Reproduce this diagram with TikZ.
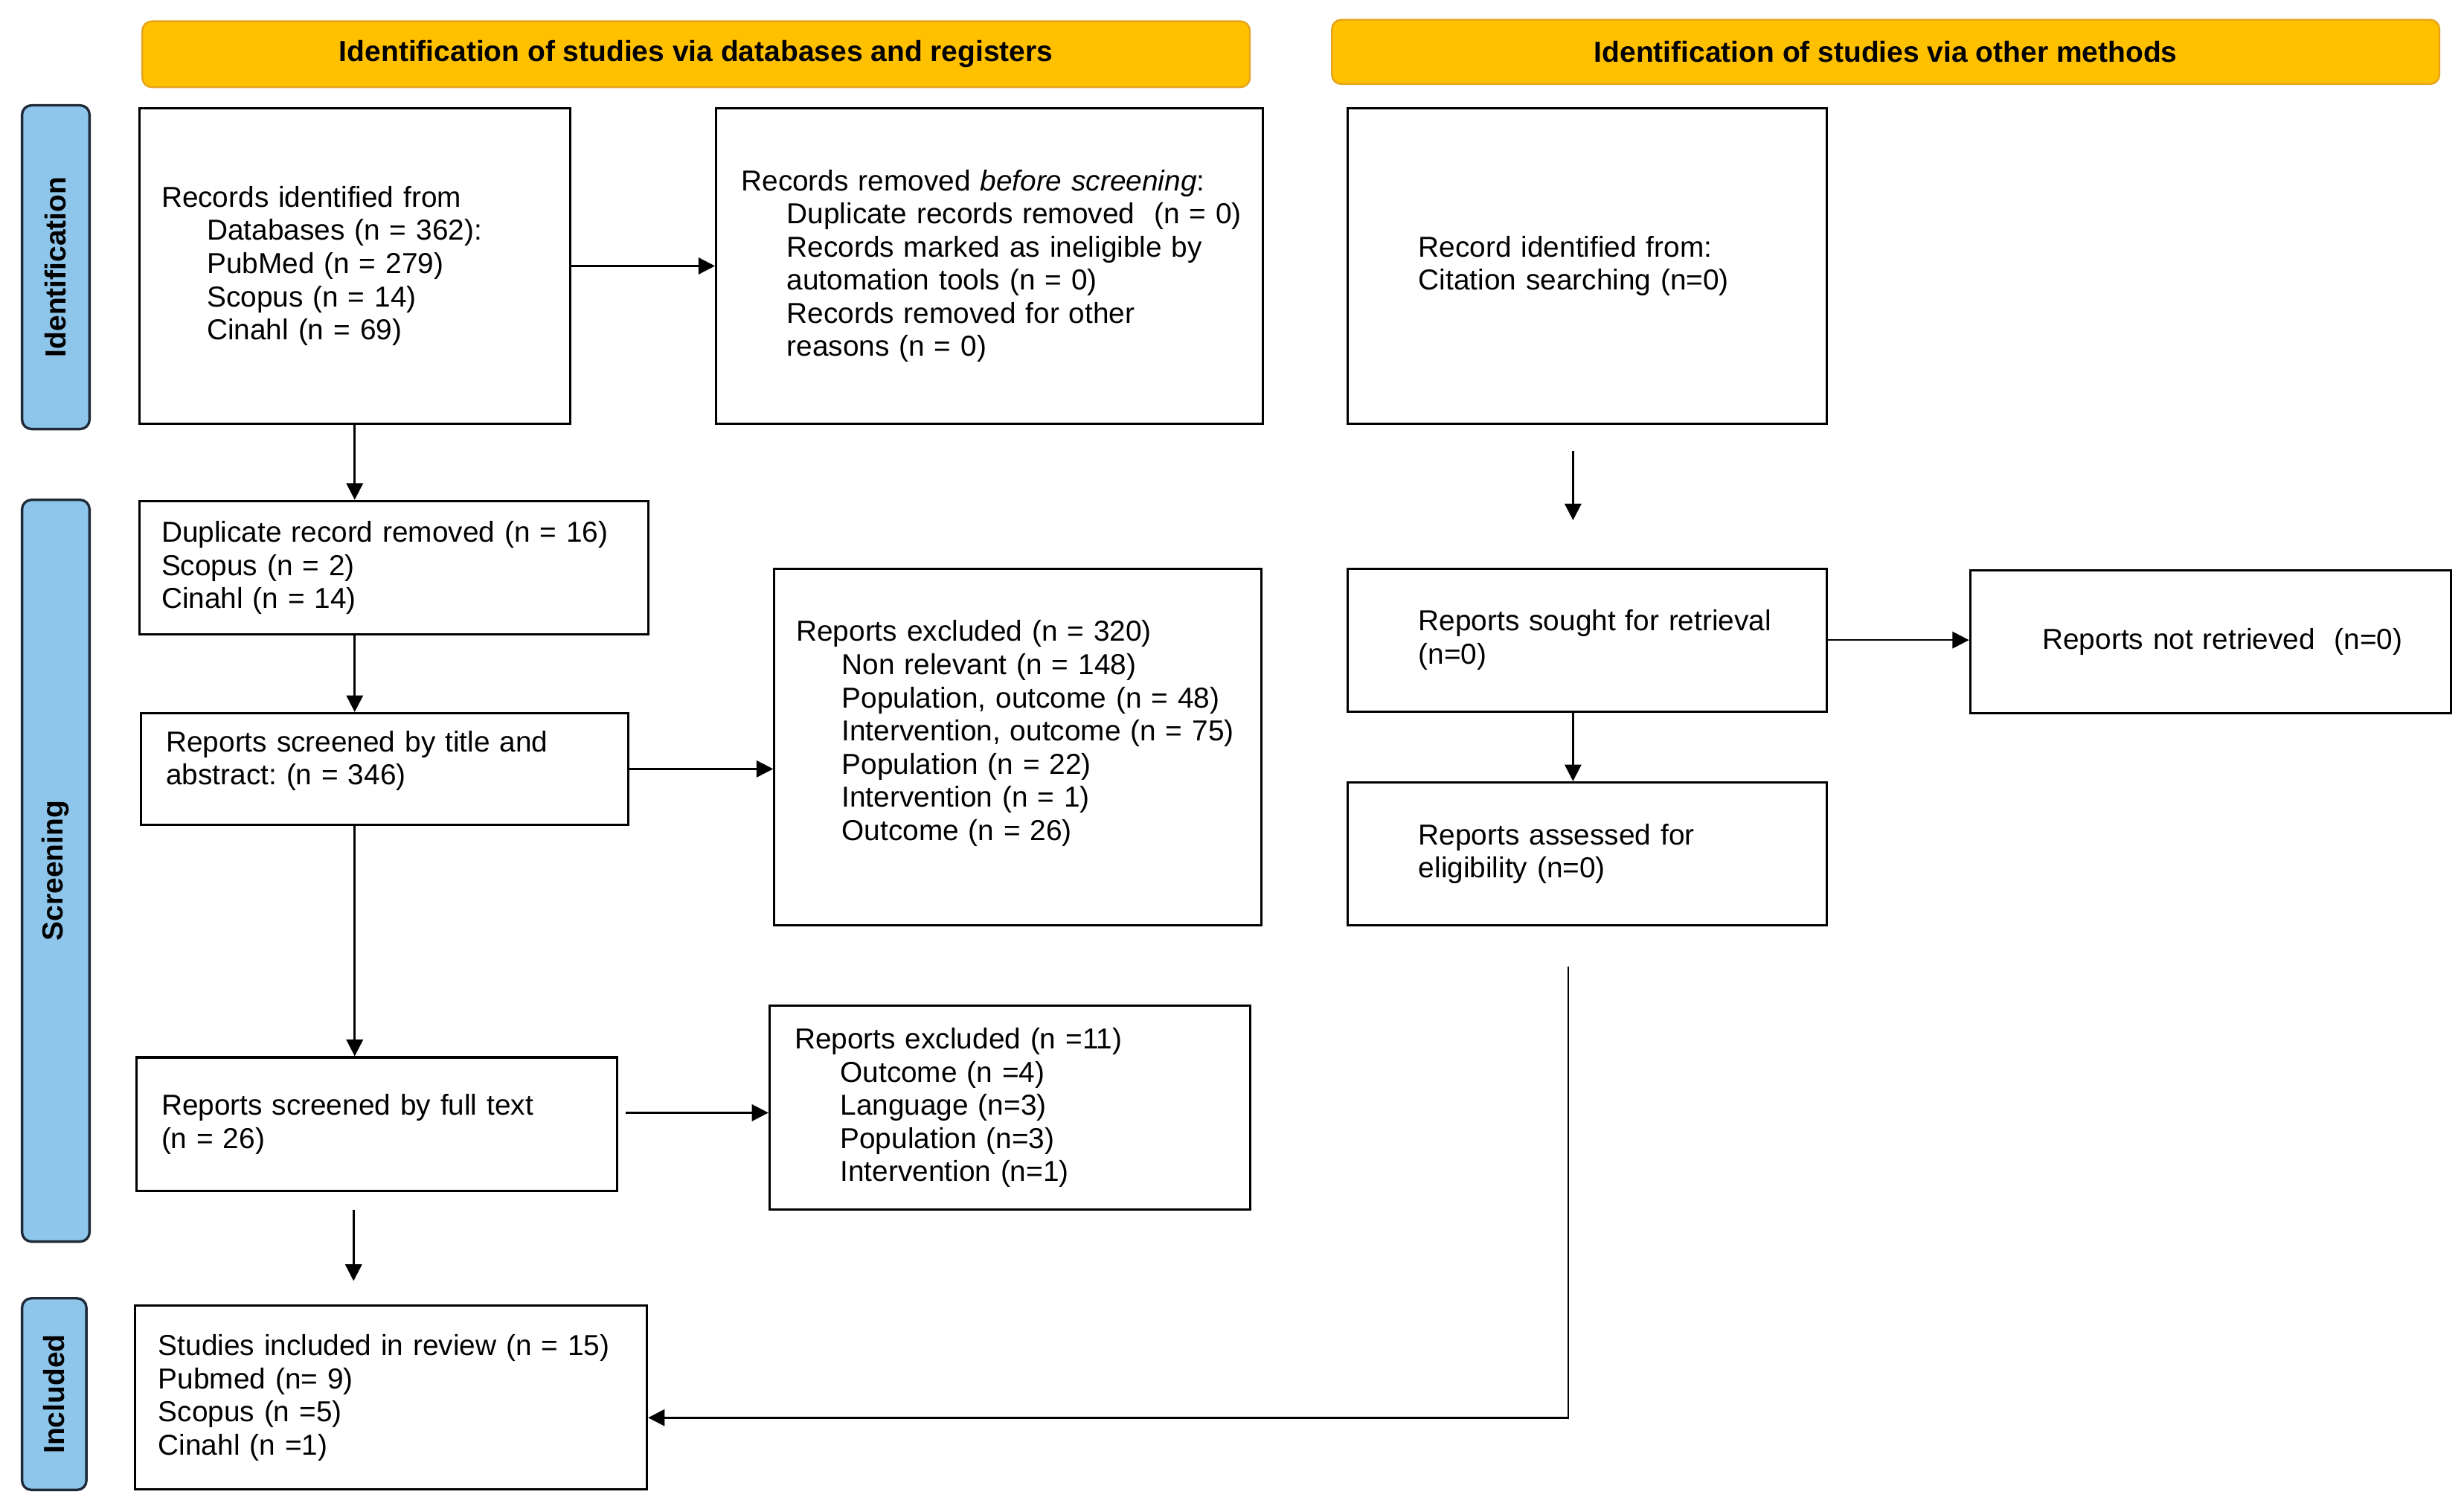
\documentclass[tikz,border=0pt]{standalone}
\usepackage{fontspec}
\setmainfont{Liberation Sans}
\usetikzlibrary{arrows.meta,calc}
\definecolor{hdrfill}{HTML}{FFC000}
\definecolor{hdrline}{HTML}{E3A21A}
\definecolor{tabfill}{HTML}{8EC5EA}
\definecolor{tabline}{HTML}{1F2A38}
\newcommand\ind{\hspace*{16.5pt}}
\frenchspacing
\begin{document}
\begin{tikzpicture}[x=0.02cm,y=-0.02cm,
  font=\fontsize{10.45}{12}\selectfont,
  box/.style={draw=black, line width=0.85pt, anchor=north west, align=left, inner ysep=0pt},
  hdr/.style={draw=hdrline, fill=hdrfill, line width=0.6pt, rounded corners=0.12cm, anchor=north west,
    font=\fontsize{10.5}{12}\selectfont\bfseries, inner sep=0pt},
  tab/.style={draw=tabline, fill=tabfill, line width=0.9pt, rounded corners=0.12cm, anchor=center,
    rotate=90, font=\fontsize{10.5}{12}\selectfont\bfseries, inner sep=0pt},
  arr/.style={line width=0.7pt, -{Triangle[length=6pt,width=6pt]}},
  link/.style={line width=0.7pt}]
\useasboundingbox (0,0) rectangle (1568,962);

% headers
\node[hdr, minimum width=14.10cm, minimum height=0.84cm] (h1) at (90,13) {Identification of studies via databases and registers};
\node[hdr, minimum width=14.10cm, minimum height=0.82cm] (h2) at (847,12) {Identification of studies via other methods};

% side tabs
\node[tab, minimum width=4.12cm, minimum height=0.86cm] (t1) at (35.5,170) {Identification};
\node[tab, minimum width=9.44cm, minimum height=0.86cm] (t2) at (35.5,554) {Screening};
\node[tab, minimum width=2.44cm, minimum height=0.82cm] (t3) at (34.5,887) {Included};

% boxes
\node[box, text width=4.92cm, inner xsep=0.28cm, minimum width=5.48cm, minimum height=4.02cm] (A) at (88,68)
 {Records identified from\\ \ind Databases (n = 362):\\ \ind PubMed (n = 279)\\ \ind Scopus (n = 14)\\ \ind Cinahl (n = 69)};
\node[box, text width=6.32cm, inner xsep=0.32cm, minimum width=6.96cm, minimum height=4.02cm] (B) at (455,68)
 {Records removed \textit{before screening}:\\ \ind\mbox{Duplicate records removed\ \ (n = 0)}\\ \ind\mbox{Records marked as ineligible by}\\ \ind automation tools (n = 0)\\ \ind Records removed for other\\ \ind reasons (n = 0)};
\node[box, text width=4.30cm, inner xsep=0.90cm, minimum width=6.10cm, minimum height=4.02cm] (C) at (857,68)
 {Record identified from:\\ Citation searching (n=0)};
\node[box, text width=5.92cm, inner xsep=0.28cm, minimum width=6.48cm, minimum height=1.70cm] (D) at (88,318)
 {\mbox{Duplicate record removed (n = 16)}\\ Scopus (n = 2)\\ Cinahl (n = 14)};
\node[box, text width=5.56cm, inner xsep=0.32cm, minimum width=6.20cm, minimum height=1.42cm] (E) at (89,453)
 {Reports screened by title and\\ abstract: (n = 346)\\[-4pt]\mbox{}};
\node[box, text width=5.64cm, inner xsep=0.28cm, minimum width=6.20cm, minimum height=4.54cm] (F) at (492,361)
 {Reports excluded (n = 320)\\ \ind Non relevant (n = 148)\\ \ind\mbox{Population, outcome (n = 48)}\\ \ind\mbox{Intervention, outcome (n = 75)}\\ \ind Population (n = 22)\\ \ind Intervention (n = 1)\\ \ind Outcome (n = 26)\\ \mbox{}};
\node[box, text width=4.30cm, inner xsep=0.90cm, minimum width=6.10cm, minimum height=1.82cm] (G) at (857,361)
 {\mbox{Reports sought for retrieval}\\ (n=0)};
\node[box, text width=4.28cm, inner xsep=0.92cm, minimum width=6.12cm, minimum height=1.82cm] (H) at (1253,362)
 {\mbox{Reports not retrieved\ \ (n=0)}};
\node[box, text width=4.30cm, inner xsep=0.90cm, minimum width=6.10cm, minimum height=1.82cm] (I) at (857,497)
 {Reports assessed for\\ eligibility (n=0)};
\node[box, text width=5.48cm, inner xsep=0.32cm, minimum width=6.12cm, minimum height=1.70cm] (J) at (86,672)
 {Reports screened by full text\\ (n = 26)};
\node[box, text width=5.48cm, inner xsep=0.32cm, minimum width=6.12cm, minimum height=2.60cm] (K) at (489,639)
 {Reports excluded (n =11)\\ \ind Outcome (n =4)\\ \ind Language (n=3)\\ \ind Population (n=3)\\ \ind Intervention (n=1)};
\node[box, text width=5.92cm, inner xsep=0.30cm, minimum width=6.52cm, minimum height=2.34cm] (L) at (85,830)
 {\mbox{Studies included in review (n = 15)}\\ Pubmed (n= 9)\\ Scopus (n =5)\\ Cinahl (n =1)};

% free connector ends
\coordinate (jk) at (398,708);
\coordinate (j1) at (225,770);
\coordinate (j2) at (225,815);
\coordinate (c1) at (1001,287);
\coordinate (c2) at (1001,331);
\coordinate (i1) at (998,615);
\coordinate (i2) at (998,902);

% connectors
\draw[arr] (A.east) -- (B.west);
\draw[arr] (A.south) -- (A.south |- D.north);
\draw[arr] (D.south -| A.south) -- (E.north -| A.south);
\draw[arr] (E.east) -- (E.east -| F.west);
\draw[arr] (E.south -| A.south) -- (J.north -| A.south);
\draw[arr] (jk) -- (jk -| K.west);
\draw[arr] (j1) -- (j2);
\draw[arr] (c1) -- (c2);
\draw[arr] (G.east) -- (G.east -| H.west);
\draw[arr] (G.south -| c1) -- (I.north -| c1);
\draw[arr] (i1) -- (i2) -- (i2 -| L.east);
\end{tikzpicture}
\end{document}
